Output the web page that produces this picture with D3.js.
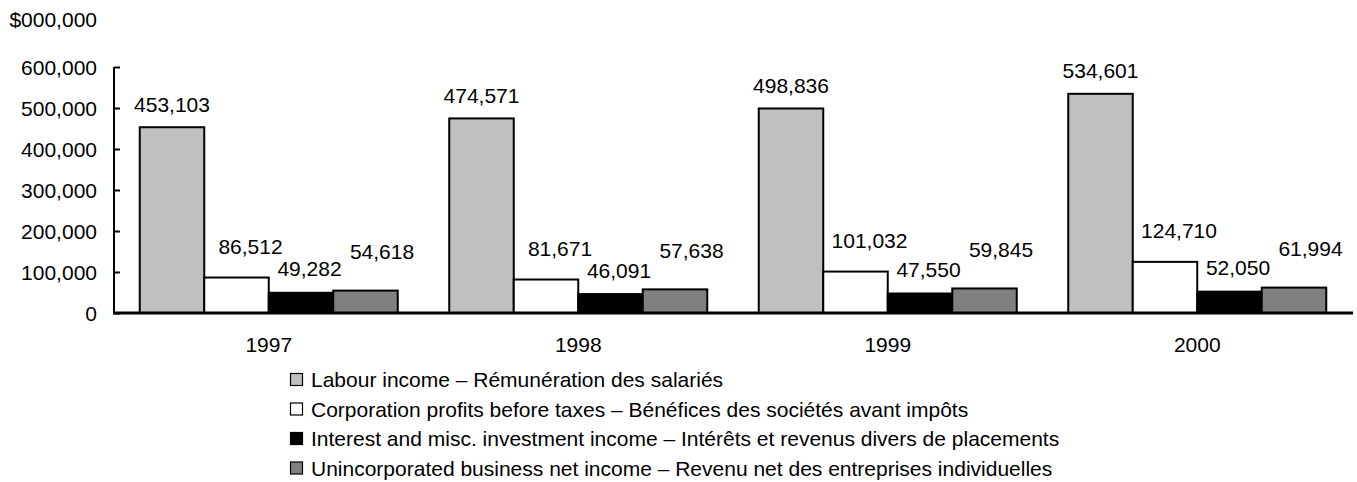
<!DOCTYPE html>
<html><head><meta charset="utf-8">
<script src="https://cdn.jsdelivr.net/npm/d3@7"></script>
<style>body{margin:0;background:#fff}svg{display:block;font-family:"Liberation Sans",Arial,sans-serif}</style>
</head><body><svg id="c" width="1357" height="482"></svg>
<script>
const years = ["1997","1998","1999","2000"];
const seriesNames = [
  "Labour income \u2013 R\u00e9mun\u00e9ration des salari\u00e9s",
  "Corporation profits before taxes \u2013 B\u00e9n\u00e9fices des soci\u00e9t\u00e9s avant imp\u00f4ts",
  "Interest and misc. investment income \u2013 Int\u00e9r\u00eats et revenus divers de placements",
  "Unincorporated business net income \u2013 Revenu net des entreprises individuelles"
];
const labour = [453103, 474571, 498836, 534601];
const corporate = [86512, 81671, 101032, 124710];
const interest = [49282, 46091, 47550, 52050];
const unincorporated = [54618, 57638, 59845, 61994];
const yTicks = [0,100000,200000,300000,400000,500000,600000];
const unitLabel = "$000,000";

const colors = ["#c0c0c0","#ffffff","#000000","#808080"];
const labelDx = [0, 14, 8.5, 16.5];
const labelGap = [15.5, 23.5, 16.5, 31.5];

const series = [labour, corporate, interest, unincorporated];
const svg = d3.select("#c");
const x0 = d3.scaleBand().domain(years).range([114, 1352]).paddingInner(0).paddingOuter(0);
const groupPad = (x0.bandwidth() - 258) / 2;
const x1 = d3.scaleBand().domain(d3.range(4)).range([groupPad, x0.bandwidth() - groupPad]);
const y = d3.scaleLinear().domain([0, 600000]).range([313, 67]);
const fmt = d3.format(",");
const fs = 21;

// bars
years.forEach((yr, i) => {
  const g = svg.append("g").attr("transform", `translate(${x0(yr)},0)`);
  series.forEach((s, k) => {
    g.append("rect")
      .attr("x", x1(k)).attr("width", x1.bandwidth())
      .attr("y", y(s[i])).attr("height", y(0) - y(s[i]))
      .attr("fill", colors[k]).attr("stroke", "#000").attr("stroke-width", 2);
  });
  series.forEach((s, k) => {
    g.append("text")
      .attr("x", x1(k) + x1.bandwidth()/2 + labelDx[k])
      .attr("y", y(s[i]) - labelGap[k])
      .attr("text-anchor", "middle").attr("font-size", fs).attr("fill", "#000")
      .text(fmt(s[i]));
  });
});

// y axis
const yAxis = d3.axisRight(y).tickValues(yTicks).tickSize(6).tickFormat("");
const ya = svg.append("g").attr("transform", "translate(114,0)").call(yAxis);
ya.select(".domain").attr("stroke", "#000").attr("stroke-width", 2).attr("d", "M0,67V313");
ya.selectAll(".tick line").attr("stroke", "#000").attr("stroke-width", 2);
svg.append("g").selectAll("text").data(yTicks).join("text")
  .attr("x", 97).attr("y", d => y(d)).attr("dy", "0.36em")
  .attr("text-anchor", "end").attr("font-size", fs).text(d => fmt(d));
svg.append("text").attr("x", 97).attr("y", 27).attr("text-anchor", "end").attr("font-size", fs).text(unitLabel);

// x axis baseline + labels
const xAxis = d3.axisBottom(x0).tickSize(0).tickPadding(0);
const xa = svg.append("g").attr("transform", `translate(0,${y(0)})`).call(xAxis);
xa.select(".domain").attr("stroke", "#000").attr("stroke-width", 3).attr("d", "M113,0H1353");
xa.selectAll(".tick text").attr("font-size", fs).attr("font-family", "Liberation Sans, Arial, sans-serif")
  .attr("fill", "#000").attr("dy", 0).attr("y", 39);

// legend
const lg = svg.append("g");
seriesNames.forEach((n, k) => {
  const yy = 373 + k * 29.5;
  lg.append("rect").attr("x", 290.5).attr("y", yy + 0.5).attr("width", 12).attr("height", 12)
    .attr("fill", colors[k]).attr("stroke", "#000").attr("stroke-width", 1.2);
  lg.append("text").attr("x", 311).attr("y", yy + 14).attr("font-size", 21).text(n);
});
</script></body></html>
